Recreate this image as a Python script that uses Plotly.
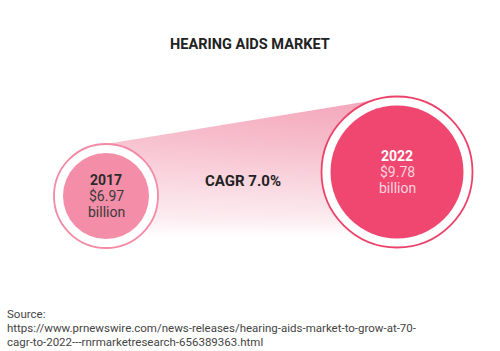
import plotly.graph_objects as go

# ---- data ----
title = "HEARING AIDS MARKET"
years = ["2017", "2022"]
values = [6.97, 9.78]          # USD billion
cagr = 7.0                      # percent
source_lines = [
    "Source:",
    "https://www.prnewswire.com/news-releases/hearing-aids-market-to-grow-at-70-",
    "cagr-to-2022---rnrmarketresearch-656389363.html",
]

# ---- layout / style (pixel coordinate system) ----
W, H = 500, 351
centers = [(106, 196), (397, 172)]
ring_r = [52, 75.5]
fill_r = [43, 66.5]
fill_cols = ["#F48DA7", "#EF4770"]
ring_cols = ["#F28AA5", "#EC4269"]
text_cols = [("#2b2b2b", "#3a3a3a"), ("#FFFFFF", "#FBD3DE")]

fig = go.Figure()

(cx0, cy0), (cx1, cy1) = centers
top0, top1 = cy0 - ring_r[0], cy1 - ring_r[1]
bot = max(cy0 + ring_r[0], cy1 + ring_r[1])
cone_x = [cx0, cx1, cx1, cx0, cx0]
cone_y = [top0, top1, bot, bot, top0]

# y axis is reversed, so colorscale position 0 is the bottom of the cone
grad = [[0, "#F4A3B8"], [0.29, "#F6B8C8"], [0.55, "#F9D2DC"],
        [0.8, "#FCEAEF"], [0.93, "#FFFFFF"], [1, "#FFFFFF"]]
grad_rev = [[round(1 - p, 4), c] for p, c in reversed(grad)]

fig.add_trace(go.Scatter(
    x=cone_x, y=cone_y, mode="lines", fill="toself",
    line=dict(width=0, color="rgba(0,0,0,0)"),
    fillgradient=dict(type="vertical", colorscale=grad_rev),
    hoverinfo="skip", showlegend=False))
fig.add_trace(go.Scatter(
    x=cone_x, y=cone_y, mode="lines", fill="toself",
    line=dict(width=0, color="rgba(0,0,0,0)"),
    fillgradient=dict(type="horizontal",
                      colorscale=[[0, "rgba(255,255,255,0.15)"], [1, "rgba(255,255,255,0)"]]),
    hoverinfo="skip", showlegend=False))

shapes = []
annotations = []
for i, ((cx, cy), rr, fr) in enumerate(zip(centers, ring_r, fill_r)):
    shapes.append(dict(type="circle", xref="x", yref="y",
                       x0=cx - rr, x1=cx + rr, y0=cy - rr, y1=cy + rr,
                       fillcolor="white", line=dict(color=ring_cols[i], width=1.8)))
    shapes.append(dict(type="circle", xref="x", yref="y",
                       x0=cx - fr, x1=cx + fr, y0=cy - fr, y1=cy + fr,
                       fillcolor=fill_cols[i], line=dict(width=0)))
    c_year, c_val = text_cols[i]
    annotations.append(dict(x=cx, y=cy - 16, xref="x", yref="y", showarrow=False,
                            text=f"<b>{years[i]}</b>",
                            font=dict(family="Roboto", size=14, color=c_year)))
    annotations.append(dict(x=cx, y=cy - 0.5, xref="x", yref="y", showarrow=False,
                            text=f"${values[i]:.2f}",
                            font=dict(family="Roboto", size=14, color=c_val)))
    annotations.append(dict(x=cx, y=cy + 15.5, xref="x", yref="y", showarrow=False,
                            text="billion",
                            font=dict(family="Roboto", size=14, color=c_val)))

annotations.append(dict(x=250, y=44, xref="x", yref="y", showarrow=False,
                        text=f"<b>{title}</b>",
                        font=dict(family="Roboto", size=14.5, color="#222222")))
annotations.append(dict(x=243, y=181, xref="x", yref="y", showarrow=False,
                        text=f"<b>CAGR {cagr:.1f}%</b>",
                        font=dict(family="Roboto", size=15, color="#222222")))
for k, line in enumerate(source_lines):
    annotations.append(dict(x=5, y=314 + 14 * k, xref="x", yref="y", showarrow=False,
                            xanchor="left", text=line,
                            font=dict(family="Roboto", size=11.5, color="#444444")))

fig.update_layout(
    width=W, height=H, margin=dict(l=0, r=0, t=0, b=0),
    paper_bgcolor="white", plot_bgcolor="white",
    xaxis=dict(range=[0, W], visible=False, fixedrange=True),
    yaxis=dict(range=[H, 0], visible=False, fixedrange=True),
    shapes=shapes, annotations=annotations, showlegend=False,
)

fig.write_html("out.html", config={"displayModeBar": False})
